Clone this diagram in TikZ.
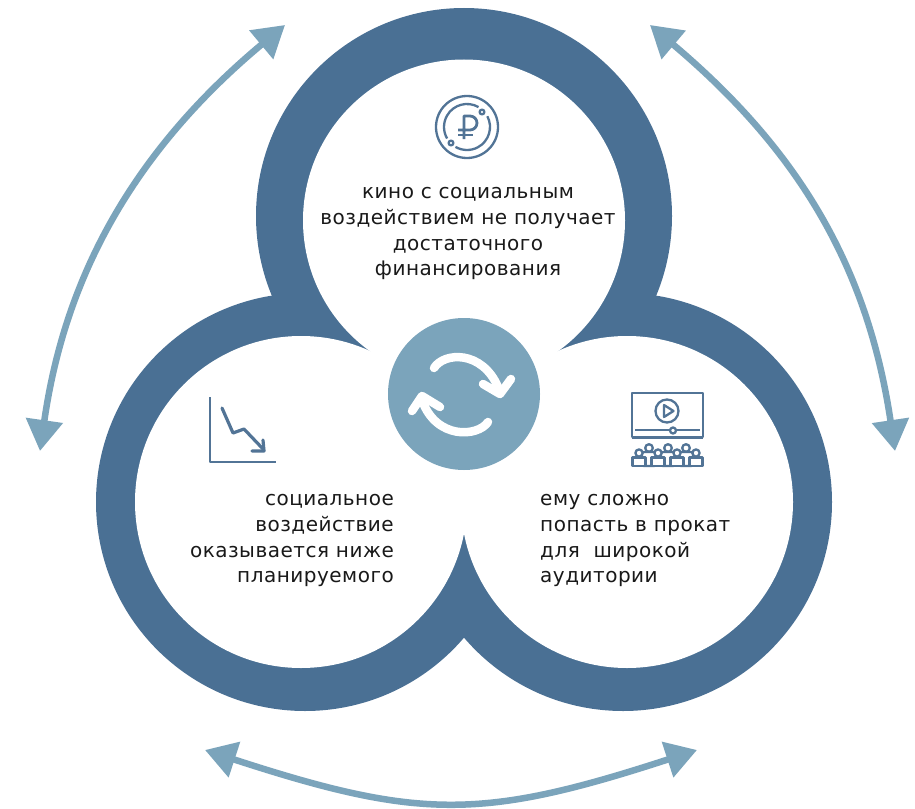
\documentclass[tikz,border=0pt]{standalone}
\usepackage{fontspec}
\setmainfont[LetterSpace=2.5]{DejaVu Sans}
\usetikzlibrary{arrows.meta,shapes.geometric}
\definecolor{bandblue}{HTML}{4A7094}
\definecolor{lightblue}{HTML}{7BA4BB}
\definecolor{inkblue}{HTML}{527496}
\tikzset{
  x=1pt,y=-1pt,
  outerring/.style={circle,fill=bandblue,inner sep=0pt,minimum size=#1},
  innerdisc/.style={circle,fill=white,inner sep=0pt,minimum size=#1},
  bigarrow/.style={draw=lightblue,line width=6.5pt,{Triangle[length=31pt,width=36pt,fill=lightblue]}-{Triangle[length=31pt,width=36pt,fill=lightblue]}},
  turn/.style={draw=white,line width=8.5pt,line cap=round,line join=round},
  icon/.style={draw=inkblue,line width=2.3pt,line join=round},
  label/.style={inner sep=0pt,font=\fontsize{20}{25.8}\selectfont,text=black!90}
}
\begin{document}
\begin{tikzpicture}
\useasboundingbox (0,0) rectangle (915,808);
\fill[white] (0,0) rectangle (915,808);
% rings
\node[outerring=416pt] (ringT) at (464,216) {};
\node[outerring=418pt] (ringL) at (305,502) {};
\node[outerring=418pt] (ringR) at (623,502) {};
\node[innerdisc=322pt] (discT) at (464,220.5) {};
\node[innerdisc=332pt] (discL) at (301,502) {};
\node[innerdisc=332pt] (discR) at (627,502) {};
\node[circle,fill=lightblue,inner sep=0pt,minimum size=152pt] (hub) at (464,394) {};
% hub arrows
\draw[turn] (434,368) .. controls (444,352) and (482,350) .. (498,387);
\draw[turn] (483,384) -- (500,394) -- (511,379);
\draw[turn] (488,422) .. controls (478,437) and (436,440) .. (422,400);
\draw[turn] (412,411) -- (422,396) -- (440,407);
% outer arrows
\coordinate (aTLa) at (285,25);
\coordinate (aTLb) at (40,451);
\coordinate (aTRa) at (650,25);
\coordinate (aTRb) at (895,451);
\coordinate (aBa) at (205,750);
\coordinate (aBb) at (697,750);
\draw[bigarrow] (aTLa) .. controls (123,160) and (63,290) .. (aTLb);
\draw[bigarrow] (aTRa) .. controls (794.6,147) and (867,262) .. (aTRb);
\draw[bigarrow] (aBa) .. controls (420,820) and (482,820) .. (aBb);
% ruble icon
\draw[icon] (467,127) circle (31);
\draw[icon] (467,127) ++(-60:23) arc (-60:-210:23);
\draw[icon] (467,127) ++(-28:23) arc (-28:120:23);
\draw[icon] (482,112) circle (2.4);
\draw[icon] (451,143) circle (2.4);
\draw[icon,line width=2.8pt] (464,139) -- (464,116) -- (470,116) arc (-90:90:7) -- (458,130);
\draw[icon,line width=2.8pt] (458,135) -- (473,135);
% chart icon
\draw[icon,line width=2.8pt] (210,397) -- (210,462) -- (276,462);
\draw[icon,line width=3.2pt,line cap=round] (222,408) -- (233,433) -- (244,429) -- (264,450);
\draw[icon,line width=3.2pt,line cap=round] (263,440) -- (264,451) -- (252,451);
% video icon
\draw[icon] (632,393) rectangle (703,437);
\draw[icon,line width=2.8pt] (632,438) -- (703,438);
\draw[icon] (635,430) -- (700,430);
\draw[icon,fill=white] (673,430.5) circle (3);
\draw[icon] (667,411) circle (11.5);
\draw[icon] (664,405) -- (664,417) -- (673.5,411) -- cycle;
\foreach \px in {649,668,686}{
  \draw[icon,fill=white] (\px,448) circle (3.8);
  \draw[icon,fill=white,rounded corners=2pt] (\px-7,466) rectangle (\px+7,452);
}
\foreach \px in {639,658,677,696}{
  \draw[icon,fill=white] (\px,453) circle (3.6);
  \draw[icon,fill=white] (\px-6.5,466) rectangle (\px+6.5,457.5);
}
% text
\node[label,align=center,anchor=north] (txtT) at (468,187) {кино с социальным\\воздействием не получает\\достаточного\\финансирования};
\node[label,align=right,anchor=north east] (txtL) at (394,494) {социальное\\воздействие\\оказывается ниже\\планируемого};
\node[label,align=left,anchor=north west] (txtR) at (540,494) {ему сложно\\попасть в прокат\\для\ \ широкой\\аудитории};
\end{tikzpicture}
\end{document}
